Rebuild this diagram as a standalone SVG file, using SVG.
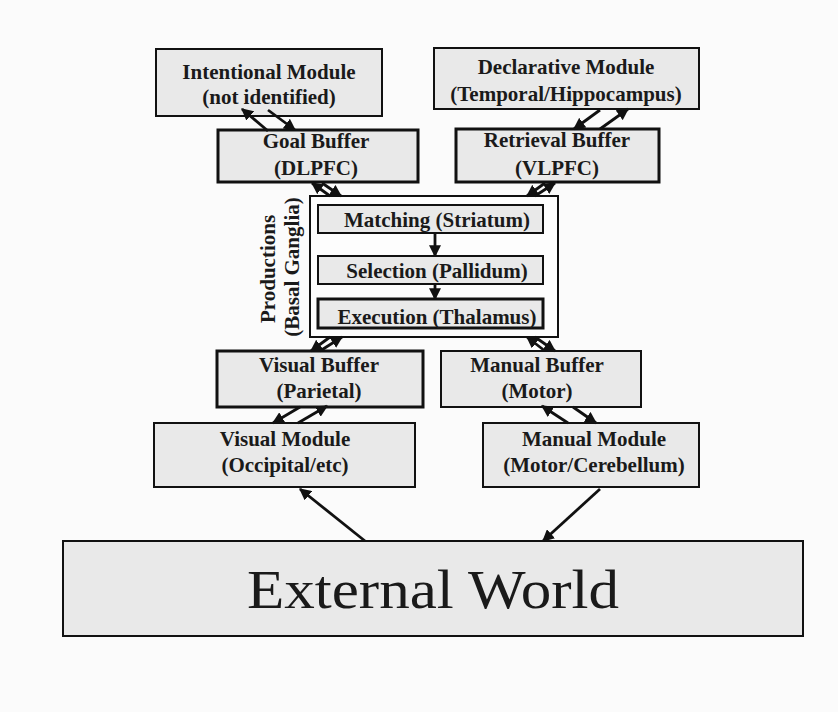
<svg xmlns="http://www.w3.org/2000/svg" width="838" height="712" viewBox="0 0 838 712">
<defs>
<style>
.box{fill:#e9e9e9;stroke:#111;stroke-width:2}
.thick{stroke-width:3}
.t{font-family:"Liberation Serif","Times New Roman",serif;font-weight:bold;font-size:21px;fill:#1a1a1a;text-anchor:middle}
.c{stroke:#111;stroke-width:2.8;fill:none;marker-end:url(#ah)}
</style>
<marker id="ah" viewBox="0 0 10 10" refX="9" refY="5" markerWidth="12" markerHeight="12" markerUnits="userSpaceOnUse" orient="auto">
<path d="M0,0 L10,5 L0,10 z" fill="#111"/>
</marker>
</defs>
<rect width="838" height="712" fill="#fbfbfb"/>
<g id="intentional">
<rect class="box" x="156" y="49" width="226" height="67"/>
<text class="t" x="269" y="79">Intentional Module</text>
<text class="t" x="269" y="104">(not identified)</text>
</g>
<g id="declarative">
<rect class="box" x="434" y="48" width="265" height="61"/>
<text class="t" x="566" y="74">Declarative Module</text>
<text class="t" x="566" y="101">(Temporal/Hippocampus)</text>
</g>
<g id="goal">
<rect class="box thick" x="218" y="130" width="200" height="52"/>
<text class="t" x="316" y="148">Goal Buffer</text>
<text class="t" x="316" y="175">(DLPFC)</text>
</g>
<g id="retrieval">
<rect class="box thick" x="456" y="129" width="203" height="53"/>
<text class="t" x="557" y="147">Retrieval Buffer</text>
<text class="t" x="557" y="175">(VLPFC)</text>
</g>
<g id="productions">
<rect x="310" y="196" width="248" height="141" fill="#fdfdfd" stroke="#111" stroke-width="2"/>
<text class="t" transform="translate(275,269) rotate(-90)">Productions</text>
<text class="t" transform="translate(299,267) rotate(-90)">(Basal Ganglia)</text>
</g>
<g id="matching">
<rect class="box" x="318" y="205" width="225" height="28" stroke-width="1.8"/>
<text class="t" x="437" y="227">Matching (Striatum)</text>
</g>
<g id="selection">
<rect class="box" x="318" y="256" width="225" height="28" stroke-width="1.8"/>
<text class="t" x="437" y="278">Selection (Pallidum)</text>
</g>
<g id="execution">
<rect class="box thick" x="318" y="299" width="225" height="29"/>
<text class="t" x="437" y="324">Execution (Thalamus)</text>
</g>
<g id="visualbuffer">
<rect class="box thick" x="217" y="351" width="206" height="56"/>
<text class="t" x="319" y="372">Visual Buffer</text>
<text class="t" x="319" y="398">(Parietal)</text>
</g>
<g id="manualbuffer">
<rect class="box" x="441" y="351" width="200" height="56" stroke-width="2.4"/>
<text class="t" x="537" y="372">Manual Buffer</text>
<text class="t" x="537" y="398">(Motor)</text>
</g>
<g id="visualmodule">
<rect class="box" x="154" y="423" width="261" height="64"/>
<text class="t" x="285" y="446">Visual Module</text>
<text class="t" x="285" y="472">(Occipital/etc)</text>
</g>
<g id="manualmodule">
<rect class="box" x="483" y="423" width="216" height="64"/>
<text class="t" x="594" y="446">Manual Module</text>
<text class="t" x="594" y="472">(Motor/Cerebellum)</text>
</g>
<g id="external">
<rect class="box" x="63" y="541" width="740" height="95"/>
<text x="433" y="608" font-family="'Liberation Serif','Times New Roman',serif" font-size="54" fill="#1a1a1a" text-anchor="middle" textLength="372" lengthAdjust="spacingAndGlyphs">External World</text>
</g>
<g id="connectors">
<line class="c" x1="268" y1="131" x2="242" y2="109"/>
<line class="c" x1="268" y1="110" x2="295" y2="130"/>
<line class="c" x1="600" y1="110" x2="574" y2="129"/>
<line class="c" x1="600" y1="129" x2="628" y2="109"/>
<line class="c" x1="330" y1="196" x2="312" y2="183"/>
<line class="c" x1="322" y1="183" x2="341" y2="196"/>
<line class="c" x1="545" y1="183" x2="527" y2="196"/>
<line class="c" x1="535" y1="196" x2="555" y2="183"/>
<line class="c" x1="330" y1="337" x2="311" y2="351"/>
<line class="c" x1="320" y1="351" x2="342" y2="337"/>
<line class="c" x1="545" y1="351" x2="527" y2="337"/>
<line class="c" x1="535" y1="337" x2="555" y2="351"/>
<line class="c" x1="300" y1="407" x2="273" y2="423"/>
<line class="c" x1="298" y1="423" x2="327" y2="406"/>
<line class="c" x1="568" y1="423" x2="542" y2="406"/>
<line class="c" x1="573" y1="407" x2="596" y2="423"/>
<line class="c" x1="435" y1="233" x2="435" y2="256"/>
<line class="c" x1="435" y1="284" x2="435" y2="299"/>
<line class="c" x1="365" y1="541" x2="300" y2="489"/>
<line class="c" x1="600" y1="489" x2="543" y2="541"/>
</g>
</svg>
